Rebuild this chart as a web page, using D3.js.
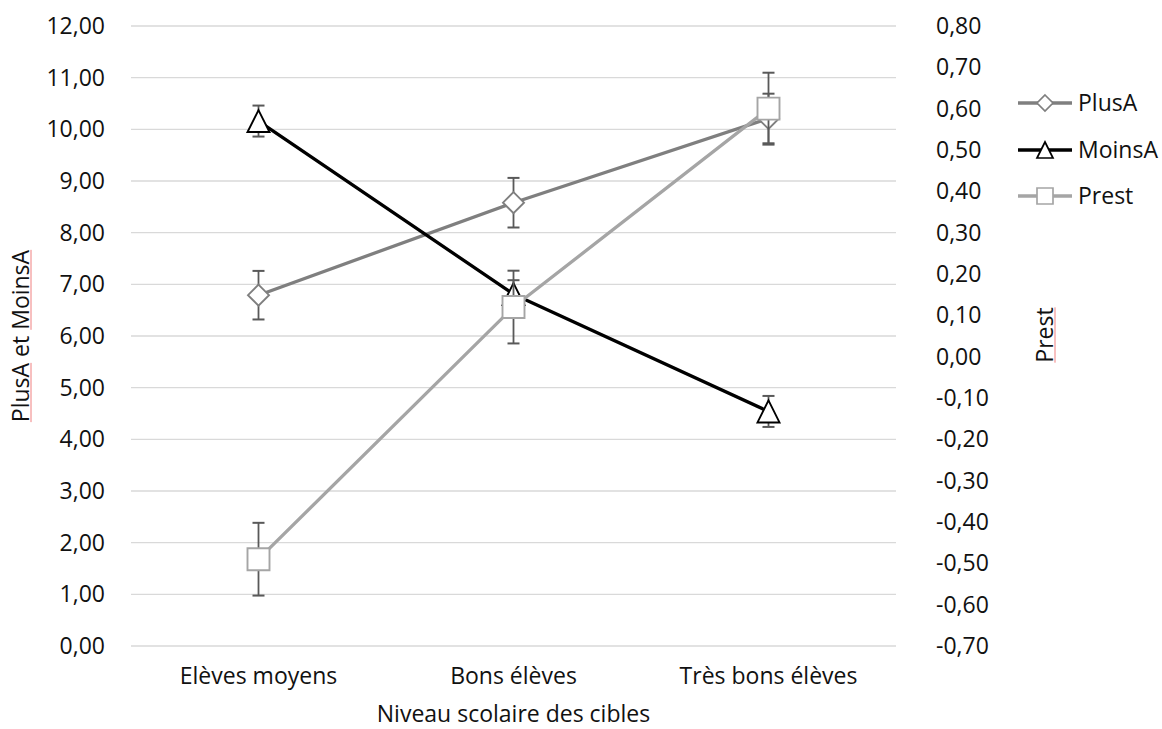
<!DOCTYPE html>
<html>
<head>
<meta charset="utf-8">
<script src="https://cdn.jsdelivr.net/npm/d3@7"></script>
<style>
  html, body { margin: 0; padding: 0; background: #fff; }
  svg { display: block; font-family: "Open Sans", sans-serif; }
  .tick text { fill: #111; }
</style>
</head>
<body>
<svg id="chart" width="1162" height="729"></svg>
<script>
// Categories (target school level)
const categories = ["Elèves moyens", "Bons élèves", "Très bons élèves"];

// Primary axis series (left)
const plusA = [6.79, 8.58, 10.21];
const plusAErr = [0.47, 0.48, 0.48];
const moinsA = [10.16, 6.81, 4.54];
const moinsAErr = [0.30, 0.27, 0.30];

// Secondary axis series (right)
const prest = [-0.49, 0.12, 0.60];
const prestErr = [0.088, 0.088, 0.087];

// Tick values
const leftTicks = [0, 1, 2, 3, 4, 5, 6, 7, 8, 9, 10, 11, 12];
const rightTicks = [-0.7, -0.6, -0.5, -0.4, -0.3, -0.2, -0.1, 0, 0.1, 0.2, 0.3, 0.4, 0.5, 0.6, 0.7, 0.8];

const svg = d3.select("#chart");
const fontSize = 23;
const textColor = "#111";

const plot = { left: 131, right: 896, top: 26, bottom: 646 };

const frLocale = d3.formatLocale({ decimal: ",", thousands: " ", grouping: [3], currency: ["", " €"], minus: "-" });
const fmt = frLocale.format(".2f");

const x = d3.scaleBand().domain(categories).range([plot.left, plot.right]).padding(0);
const yL = d3.scaleLinear().domain([0, 12]).range([plot.bottom, plot.top]);
const yR = d3.scaleLinear().domain([-0.7, 0.8]).range([plot.bottom, plot.top]);
const cx = c => x(c) + x.bandwidth() / 2;

// Horizontal gridlines
svg.append("g")
  .selectAll("line")
  .data(leftTicks)
  .join("line")
  .attr("x1", plot.left).attr("x2", plot.right)
  .attr("y1", d => yL(d)).attr("y2", d => yL(d))
  .attr("stroke", "#d9d9d9").attr("stroke-width", 1.4);

// Left axis
const gL = svg.append("g")
  .attr("transform", `translate(${plot.left},0)`)
  .call(d3.axisLeft(yL).tickValues(leftTicks).tickFormat(fmt).tickSize(0).tickPadding(26));
gL.select(".domain").remove();
gL.selectAll("text").attr("font-size", fontSize).attr("font-family", "Open Sans");

// Right axis
const gR = svg.append("g")
  .attr("transform", `translate(${plot.right},0)`)
  .call(d3.axisRight(yR).tickValues(rightTicks).tickFormat(fmt).tickSize(0).tickPadding(40));
gR.select(".domain").remove();
gR.selectAll("text").attr("font-size", fontSize).attr("font-family", "Open Sans");

// Bottom axis
const gB = svg.append("g")
  .attr("transform", `translate(0,${plot.bottom})`)
  .call(d3.axisBottom(x).tickSize(0).tickPadding(22));
gB.select(".domain").remove();
gB.selectAll("text").attr("font-size", fontSize).attr("font-family", "Open Sans");

// Axis titles
svg.append("text")
  .attr("x", (plot.left + plot.right) / 2).attr("y", 722)
  .attr("text-anchor", "middle").attr("font-size", fontSize).attr("fill", textColor)
  .text("Niveau scolaire des cibles");

function rotatedTitle(px, py, label, flagged) {
  const g = svg.append("g").attr("transform", `translate(${px},${py}) rotate(-90)`);
  const t = g.append("text")
    .attr("x", 0).attr("y", 0)
    .attr("text-anchor", "middle").attr("font-size", fontSize).attr("fill", textColor)
    .text(label);
  const node = t.node();
  const total = node.getComputedTextLength();
  flagged.forEach(word => {
    const i = label.indexOf(word);
    const start = i > 0 ? node.getSubStringLength(0, i) : 0;
    const len = node.getSubStringLength(i, word.length);
    g.append("line")
      .attr("x1", -total / 2 + start).attr("x2", -total / 2 + start + len)
      .attr("y1", 2).attr("y2", 2)
      .attr("stroke", "#f08080").attr("stroke-width", 1);
  });
}
rotatedTitle(29, 336, "PlusA et MoinsA", ["PlusA", "MoinsA"]);
rotatedTitle(1053, 335, "Prest", ["Prest"]);

// Marker shapes
function markerPath(type, s) {
  const h = s / 2;
  if (type === "diamond") return `M0,${-h}L${h},0L0,${h}L${-h},0Z`;
  if (type === "triangle") return `M0,${-h}L${h},${h}L${-h},${h}Z`;
  return `M${-h},${-h}H${h}V${h}H${-h}Z`;
}

const series = [
  { name: "PlusA", values: plusA, err: plusAErr, y: yL, color: "#7f7f7f", marker: "diamond", size: 21 },
  { name: "MoinsA", values: moinsA, err: moinsAErr, y: yL, color: "#000000", marker: "triangle", size: 22 },
  { name: "Prest", values: prest, err: prestErr, y: yR, color: "#a5a5a5", marker: "square", size: 22 }
];

const errColor = "#595959";

series.forEach(s => {
  const g = svg.append("g");
  const pts = categories.map((c, i) => ({ c, v: s.values[i], e: s.err[i] }));
  g.append("path")
    .datum(pts)
    .attr("fill", "none").attr("stroke", s.color).attr("stroke-width", 3.3)
    .attr("stroke-linejoin", "round")
    .attr("d", d3.line().x(d => cx(d.c)).y(d => s.y(d.v)));
  // Error bars
  const eb = g.selectAll(".eb").data(pts).join("g");
  eb.append("line")
    .attr("x1", d => cx(d.c)).attr("x2", d => cx(d.c))
    .attr("y1", d => s.y(d.v - d.e)).attr("y2", d => s.y(d.v + d.e))
    .attr("stroke", errColor).attr("stroke-width", 1.8);
  [1, -1].forEach(k => {
    eb.append("line")
      .attr("x1", d => cx(d.c) - 6).attr("x2", d => cx(d.c) + 6)
      .attr("y1", d => s.y(d.v + k * d.e)).attr("y2", d => s.y(d.v + k * d.e))
      .attr("stroke", errColor).attr("stroke-width", 2);
  });
  // Markers
  g.selectAll(".mk").data(pts).join("path")
    .attr("transform", d => `translate(${cx(d.c)},${s.y(d.v)})`)
    .attr("d", markerPath(s.marker, s.size))
    .attr("fill", "#fff").attr("stroke", s.color).attr("stroke-width", 1.9);
});

// Legend
const legendY = [103, 150, 196];
const lg = svg.append("g");
series.forEach((s, i) => {
  const row = lg.append("g").attr("transform", `translate(0,${legendY[i]})`);
  row.append("line").attr("x1", 1018).attr("x2", 1072).attr("y1", 0).attr("y2", 0)
    .attr("stroke", s.color).attr("stroke-width", 3.3);
  row.append("path").attr("transform", "translate(1045,0)")
    .attr("d", markerPath(s.marker, 16))
    .attr("fill", "#fff").attr("stroke", s.color).attr("stroke-width", 1.7);
  row.append("text").attr("x", 1078).attr("y", 0).attr("dy", "0.35em")
    .attr("font-size", fontSize).attr("fill", textColor).text(s.name);
});
</script>
</body>
</html>
